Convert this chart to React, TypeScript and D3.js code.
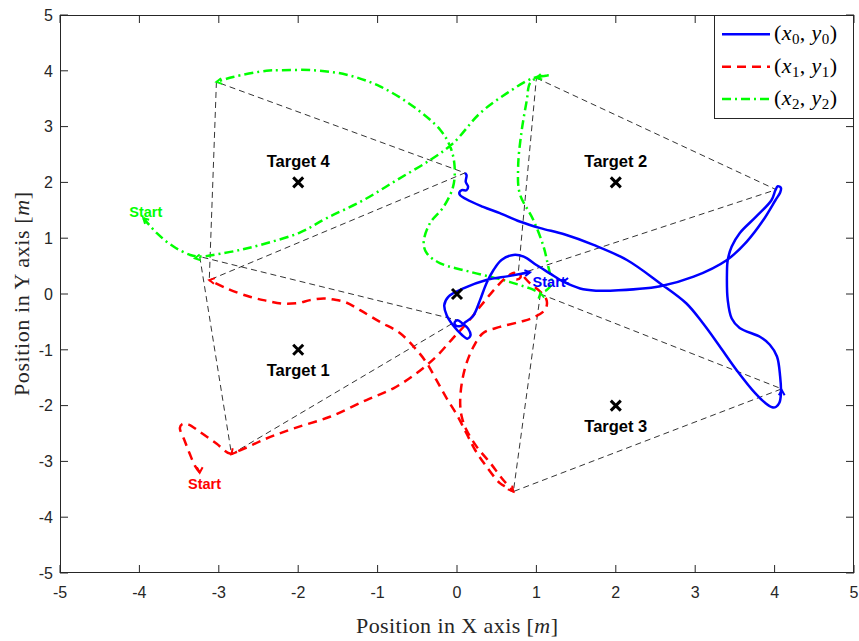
import React from 'react';
import * as d3 from 'd3';

const W = 859;
const H = 641;

const xTicks = [-5, -4, -3, -2, -1, 0, 1, 2, 3, 4, 5];
const yTicks = [-5, -4, -3, -2, -1, 0, 1, 2, 3, 4, 5];

// Agent 0 (blue) trajectory
const bluePath: [number, number][] = [
  [0.92, 0.39], [0.65, 0.32], [0.37, 0.25], [0.08, 0.10], [-0.11, -0.05], [-0.16, -0.20],
  [-0.13, -0.38], [-0.05, -0.56], [0.06, -0.73], [0.13, -0.80], [0.17, -0.74], [0.14, -0.62],
  [0.07, -0.53], [0.01, -0.47], [-0.03, -0.51], [-0.01, -0.57], [0.05, -0.57], [0.10, -0.51],
  [0.20, -0.40], [0.29, -0.11], [0.37, 0.19], [0.46, 0.43], [0.56, 0.61], [0.71, 0.70],
  [0.84, 0.67], [1.0, 0.52], [1.17, 0.37], [1.34, 0.22], [1.55, 0.10], [1.75, 0.06],
  [1.93, 0.06], [2.56, 0.14], [2.98, 0.31], [3.40, 0.61], [3.65, 0.94], [3.86, 1.33],
  [4.01, 1.68], [4.07, 1.82], [4.08, 1.90], [4.04, 1.93], [4.01, 1.86], [3.96, 1.68],
  [3.77, 1.39], [3.56, 1.09], [3.46, 0.85], [3.41, 0.61], [3.40, 0.37], [3.41, -0.11],
  [3.46, -0.44], [3.56, -0.61], [3.82, -0.77], [3.94, -0.91], [4.03, -1.12], [4.07, -1.48],
  [4.08, -1.78], [4.06, -1.95], [4.02, -2.02], [3.97, -2.03], [3.88, -1.95], [3.77, -1.80],
  [3.52, -1.36], [3.31, -0.94], [3.10, -0.53], [2.89, -0.17], [2.56, 0.19], [2.14, 0.61],
  [1.72, 0.88], [1.35, 1.07], [1.05, 1.18], [0.79, 1.30], [0.54, 1.45], [0.33, 1.56],
  [0.04, 1.77], [0.03, 1.82], [0.06, 1.86], [0.12, 1.86], [0.14, 1.92], [0.11, 2.01],
  [0.12, 2.13], [0.10, 2.17],
];

// Agent 1 (red) trajectory
const redPath: [number, number][] = [
  [-3.24, -3.20], [-3.30, -3.08], [-3.37, -2.85], [-3.43, -2.63], [-3.49, -2.40], [-3.46, -2.33],
  [-3.38, -2.34], [-3.24, -2.47], [-3.03, -2.68], [-2.86, -2.86], [-2.73, -2.80], [-2.40, -2.59],
  [-2.06, -2.41], [-1.60, -2.20], [-1.14, -1.90], [-0.80, -1.69], [-0.51, -1.42], [-0.26, -1.12],
  [-0.05, -0.79], [0.12, -0.53], [0.29, -0.23], [0.50, 0.13], [0.63, 0.31], [0.72, 0.38],
  [0.70, 0.30], [0.75, 0.26], [0.80, 0.30], [0.80, 0.38], [0.86, 0.28], [0.92, 0.19],
  [1.05, 0.04], [1.13, -0.12], [1.11, -0.28], [0.95, -0.43], [0.79, -0.50], [0.54, -0.59],
  [0.33, -0.70], [0.21, -0.94], [0.12, -1.24], [0.06, -1.60], [0.04, -1.96], [0.06, -2.20],
  [0.12, -2.44], [0.25, -2.74], [0.42, -3.03], [0.58, -3.33], [0.71, -3.54], [0.62, -3.46],
  [0.54, -3.39], [0.37, -3.09], [0.23, -2.80], [0.12, -2.50], [0.0, -2.17], [-0.13, -1.87],
  [-0.26, -1.54], [-0.38, -1.24], [-0.51, -1.00], [-0.72, -0.70], [-0.97, -0.50], [-1.22, -0.29],
  [-1.40, -0.15], [-1.55, -0.10], [-1.68, -0.08], [-1.85, -0.11], [-2.0, -0.16], [-2.2, -0.17],
  [-2.40, -0.12], [-2.61, -0.05], [-2.90, 0.10], [-3.12, 0.25],
];

// Agent 2 (green) trajectory
const greenPath: [number, number][] = [
  [-3.95, 1.36], [-3.78, 1.09], [-3.57, 0.85], [-3.36, 0.70], [-3.24, 0.67], [-3.07, 0.70],
  [-2.73, 0.79], [-2.40, 0.91], [-1.98, 1.10], [-1.64, 1.36], [-1.18, 1.68], [-0.76, 2.04],
  [-0.34, 2.40], [-0.05, 2.70], [0.29, 3.24], [0.63, 3.60], [0.96, 3.87], [1.17, 3.92],
  [1.02, 3.88], [0.92, 3.78], [0.88, 3.48], [0.81, 2.88], [0.77, 2.28], [0.79, 1.80],
  [0.96, 1.33], [1.09, 0.85], [1.15, 0.49], [1.17, 0.37], [1.19, 0.19], [1.13, 0.07],
  [1.05, 0.03], [0.92, 0.10], [0.58, 0.25], [0.16, 0.40], [-0.21, 0.55], [-0.38, 0.73],
  [-0.42, 0.92], [-0.34, 1.27], [-0.17, 1.56], [-0.05, 1.92], [-0.03, 2.28], [-0.08, 2.62],
  [-0.21, 2.94], [-0.55, 3.36], [-0.97, 3.72], [-1.39, 3.93], [-1.81, 4.01], [-2.23, 4.01],
  [-2.40, 4.00], [-2.82, 3.89], [-3.03, 3.80],
];

// formation triangles (green, red, blue vertices) at each target
const formationT1: [number, number][] = [[-3.24, 0.67], [-2.84, -2.87], [0.01, -0.47]];
const formationT2: [number, number][] = [[1.0, 3.87], [4.02, 1.87], [0.77, 0.35]];
const formationT3: [number, number][] = [[1.05, 0.0], [4.09, -1.7], [0.71, -3.54]];
const formationT4: [number, number][] = [[-3.03, 3.8], [-3.12, 0.25], [0.10, 2.17]];

const targetX = [-2, 2, 2, -2, 0];
const targetY = [-1, 2, -2, 2, 0];
const targetLabels = ['Target 1', 'Target 2', 'Target 3', 'Target 4', ''];

const startLabelX = [1.16, -3.18, -3.92];
const startLabelY = [0.13, -3.49, 1.38];

// heading arrows: x, y, direction (deg, screen)
const blueArrows: [number, number, number][] = [[0.92, 0.39, -10], [1.34, 0.22, 170], [4.09, -1.72, -90]];
const redArrows: [number, number, number][] = [[-3.24, -3.2, 90], [-2.84, -2.87, 130], [0.71, -3.54, 50], [-3.12, 0.25, 190]];
const greenArrows: [number, number, number][] = [[-3.95, 1.36, -135], [-3.3, 0.64, 170], [1.0, 3.87, 165], [1.05, 0.02, -100], [-3.03, 3.8, 170]];

const seriesNames = ['0', '1', '2'];
const seriesColors = ['#0000ff', '#ff0000', '#00ff00'];

const x = d3.scaleLinear().domain([-5, 5]).range([60, 854]);
const y = d3.scaleLinear().domain([-5, 5]).range([573, 15]);

const line = d3
  .line<[number, number]>()
  .x((d) => x(d[0]))
  .y((d) => y(d[1]))
  .curve(d3.curveCatmullRom.alpha(0.5));

const closed = d3
  .line<[number, number]>()
  .x((d) => x(d[0]))
  .y((d) => y(d[1]))
  .curve(d3.curveLinearClosed);

const AXIS = '#262626';

function Arrows({ list, color }: { list: [number, number, number][]; color: string }) {
  return (
    <g>
      {list.map((a, i) => {
        const px = x(a[0]);
        const py = y(a[1]);
        const ang = (a[2] * Math.PI) / 180;
        const L = 6;
        const p1 = [px - L * Math.cos(ang - 0.5), py - L * Math.sin(ang - 0.5)];
        const p2 = [px - L * Math.cos(ang + 0.5), py - L * Math.sin(ang + 0.5)];
        return (
          <path
            key={i}
            d={`M${p1[0]},${p1[1]}L${px},${py}L${p2[0]},${p2[1]}`}
            fill="none"
            stroke={color}
            strokeWidth={2}
          />
        );
      })}
    </g>
  );
}

function LegendLabel({ idx, tx, ty }: { idx: string; tx: number; ty: number }) {
  return (
    <text
      x={tx}
      y={ty}
      fontFamily="'Liberation Serif', serif"
      fontSize={22}
      fill="#000"
      textLength={63}
      lengthAdjust="spacing"
    >
      <tspan>(</tspan>
      <tspan fontStyle="italic">x</tspan>
      <tspan fontSize={15} dy={4}>{idx}</tspan>
      <tspan dy={-4}>, </tspan>
      <tspan fontStyle="italic">y</tspan>
      <tspan fontSize={15} dy={4}>{idx}</tspan>
      <tspan dy={-4}>)</tspan>
    </text>
  );
}

export default function App() {
  const formations = [formationT1, formationT2, formationT3, formationT4];
  const tickLen = 8;
  const sans = "'Liberation Sans', Arial, Helvetica, sans-serif";
  const legendX = 714.5;
  const legendY = 15.5;
  const legendRows = [34.3, 66.7, 99];
  const dashes = ['', '9,6', '9,4,2,4'];
  return (
    <svg
      width={W}
      height={H}
      style={{ position: 'absolute', left: 0, top: 0, background: '#fff' }}
      xmlns="http://www.w3.org/2000/svg"
    >
      <rect x={0} y={0} width={W} height={H} fill="#fff" />
      {/* formation triangles */}
      {formations.map((f, i) => (
        <path key={i} d={closed(f) || ''} fill="none" stroke="#000" strokeWidth={0.8} strokeDasharray="6,4" />
      ))}
      {/* trajectories */}
      <path d={line(greenPath) || ''} fill="none" stroke={seriesColors[2]} strokeWidth={2.5} strokeDasharray={dashes[2]} />
      <path d={line(redPath) || ''} fill="none" stroke={seriesColors[1]} strokeWidth={2.5} strokeDasharray={dashes[1]} />
      <path d={line(bluePath) || ''} fill="none" stroke={seriesColors[0]} strokeWidth={2.5} />
      <Arrows list={greenArrows} color={seriesColors[2]} />
      <Arrows list={redArrows} color={seriesColors[1]} />
      <Arrows list={blueArrows} color={seriesColors[0]} />
      {/* targets */}
      {targetX.map((tx, i) => {
        const px = x(tx);
        const py = y(targetY[i]);
        const s = 5;
        return (
          <g key={i}>
            <path
              d={`M${px - s},${py - s}L${px + s},${py + s}M${px - s},${py + s}L${px + s},${py - s}`}
              stroke="#000"
              strokeWidth={3}
            />
            {targetLabels[i] && (
              <text
                x={px}
                y={targetY[i] > 0 ? py - 15 : py + 26}
                textAnchor="middle"
                fontFamily={sans}
                fontWeight="bold"
                fontSize={16.5}
                fill="#000"
              >
                {targetLabels[i]}
              </text>
            )}
          </g>
        );
      })}
      {/* start labels */}
      {startLabelX.map((sx, i) => (
        <text
          key={i}
          x={x(sx)}
          y={y(startLabelY[i])}
          textAnchor="middle"
          fontFamily={sans}
          fontWeight="bold"
          fontSize={14.5}
          fill={seriesColors[i]}
        >
          Start
        </text>
      ))}
      {/* axes box */}
      <rect x={60.5} y={15.5} width={793} height={557} fill="none" stroke={AXIS} strokeWidth={1} />
      {xTicks.map((t) => (
        <g key={'x' + t}>
          <line x1={x(t)} x2={x(t)} y1={573} y2={573 - tickLen} stroke={AXIS} />
          <line x1={x(t)} x2={x(t)} y1={15} y2={15 + tickLen} stroke={AXIS} />
          <text x={x(t)} y={598} textAnchor="middle" fontFamily={sans} fontSize={16} fill={AXIS}>
            {t}
          </text>
        </g>
      ))}
      {yTicks.map((t) => (
        <g key={'y' + t}>
          <line x1={60} x2={60 + tickLen} y1={y(t)} y2={y(t)} stroke={AXIS} />
          <line x1={854} x2={854 - tickLen} y1={y(t)} y2={y(t)} stroke={AXIS} />
          <text x={53} y={y(t)} dy="0.36em" textAnchor="end" fontFamily={sans} fontSize={16} fill={AXIS}>
            {t}
          </text>
        </g>
      ))}
      {/* axis labels */}
      <text
        x={457}
        y={633}
        textAnchor="middle"
        fontFamily="'Liberation Serif', serif"
        fontSize={22}
        fill={AXIS}
        textLength={202}
        lengthAdjust="spacing"
      >
        Position in X axis [<tspan fontStyle="italic">m</tspan>]
      </text>
      <text
        transform={`translate(29,294) rotate(-90)`}
        textAnchor="middle"
        fontFamily="'Liberation Serif', serif"
        fontSize={22}
        fill={AXIS}
        textLength={204}
        lengthAdjust="spacing"
      >
        Position in Y axis [<tspan fontStyle="italic">m</tspan>]
      </text>
      {/* legend */}
      <rect x={legendX} y={legendY} width={139} height={103} fill="#fff" stroke={AXIS} strokeWidth={1} />
      {seriesNames.map((n, i) => (
        <g key={n}>
          <line
            x1={722}
            x2={770}
            y1={legendRows[i]}
            y2={legendRows[i]}
            stroke={seriesColors[i]}
            strokeWidth={2.5}
            strokeDasharray={dashes[i]}
          />
          <LegendLabel idx={n} tx={774} ty={legendRows[i] + 6} />
        </g>
      ))}
    </svg>
  );
}
